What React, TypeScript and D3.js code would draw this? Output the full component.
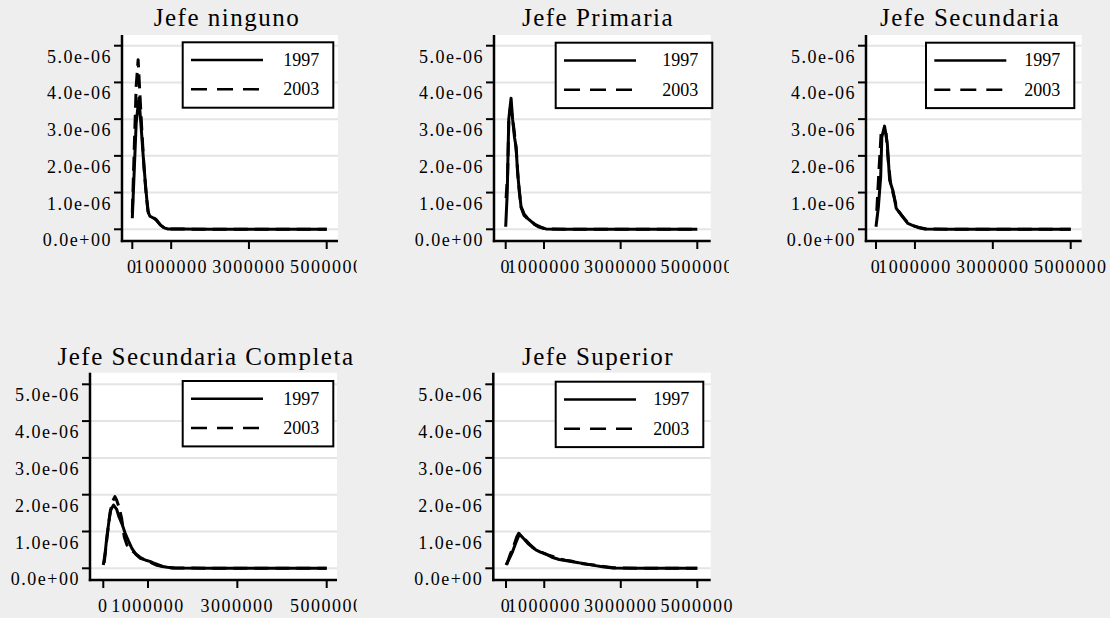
import React, { useEffect, useRef } from "react"
import * as d3 from "d3"

type Pt = [number, number]

const titles = [
  "Jefe ninguno",
  "Jefe Primaria",
  "Jefe Secundaria",
  "Jefe Secundaria Completa",
  "Jefe Superior",
]
const years = ["1997", "2003"]
const xTicks = [0, 1000000, 3000000, 5000000]
const yTicks = [0, 1e-6, 2e-6, 3e-6, 4e-6, 5e-6]

// kernel densities: [ingreso, densidad]
const ninguno1997: Pt[] = [
  [0, 0.3e-6], [0.05e6, 1.6e-6], [0.1e6, 2.9e-6], [0.17e6, 3.57e-6], [0.22e6, 2.9e-6],
  [0.28e6, 2.0e-6], [0.34e6, 1.2e-6], [0.4e6, 0.5e-6], [0.45e6, 0.36e-6], [0.52e6, 0.32e-6],
  [0.6e6, 0.28e-6], [0.66e6, 0.2e-6], [0.74e6, 0.1e-6], [0.82e6, 0.04e-6], [0.92e6, 0.01e-6],
  [1.2e6, 0.005e-6], [2e6, 0.002e-6], [3e6, 0.001e-6], [5e6, 0],
]
const ninguno2003: Pt[] = [
  [0, 0.45e-6], [0.05e6, 2.2e-6], [0.1e6, 3.9e-6], [0.15e6, 4.62e-6], [0.19e6, 3.8e-6],
  [0.24e6, 2.8e-6], [0.3e6, 1.7e-6], [0.36e6, 0.9e-6], [0.42e6, 0.4e-6], [0.48e6, 0.33e-6],
  [0.56e6, 0.3e-6], [0.63e6, 0.24e-6], [0.72e6, 0.12e-6], [0.82e6, 0.04e-6], [0.95e6, 0.01e-6],
  [1.5e6, 0.004e-6], [2.5e6, 0.001e-6], [5e6, 0],
]
const primaria1997: Pt[] = [
  [0, 0.07e-6], [0.04e6, 1.0e-6], [0.08e6, 3.0e-6], [0.14e6, 3.57e-6], [0.18e6, 3.0e-6],
  [0.23e6, 2.5e-6], [0.27e6, 2.25e-6], [0.31e6, 1.55e-6], [0.36e6, 1.0e-6], [0.4e6, 0.62e-6],
  [0.48e6, 0.42e-6], [0.57e6, 0.3e-6], [0.68e6, 0.2e-6], [0.79e6, 0.12e-6], [0.92e6, 0.06e-6],
  [1.05e6, 0.01e-6], [1.5e6, 0.003e-6], [3e6, 0.001e-6], [5e6, 0],
]
const primaria2003: Pt[] = [
  [0.01e6, 0.85e-6], [0.05e6, 1.5e-6], [0.08e6, 2.9e-6], [0.12e6, 3.3e-6], [0.17e6, 3.1e-6],
  [0.23e6, 2.6e-6], [0.28e6, 2.1e-6], [0.33e6, 1.3e-6], [0.4e6, 0.6e-6], [0.48e6, 0.38e-6],
  [0.58e6, 0.28e-6], [0.66e6, 0.25e-6], [0.74e6, 0.14e-6], [0.85e6, 0.07e-6], [1.0e6, 0.02e-6],
  [1.2e6, 0.005e-6], [2e6, 0.002e-6], [5e6, 0],
]
const secundaria1997: Pt[] = [
  [0, 0.07e-6], [0.06e6, 0.6e-6], [0.12e6, 1.43e-6], [0.15e6, 2.52e-6], [0.22e6, 2.81e-6],
  [0.29e6, 2.34e-6], [0.35e6, 1.34e-6], [0.44e6, 1.03e-6], [0.52e6, 0.57e-6], [0.65e6, 0.39e-6],
  [0.75e6, 0.25e-6], [0.82e6, 0.16e-6], [0.95e6, 0.1e-6], [1.08e6, 0.05e-6], [1.25e6, 0.01e-6],
  [2e6, 0.003e-6], [3.5e6, 0.001e-6], [5e6, 0],
]
const secundaria2003: Pt[] = [
  [0.02e6, 0.5e-6], [0.07e6, 1.5e-6], [0.13e6, 2.6e-6], [0.2e6, 2.75e-6], [0.26e6, 2.6e-6],
  [0.32e6, 1.8e-6], [0.38e6, 1.2e-6], [0.46e6, 0.9e-6], [0.54e6, 0.55e-6], [0.66e6, 0.38e-6],
  [0.8e6, 0.2e-6], [0.95e6, 0.1e-6], [1.1e6, 0.05e-6], [1.3e6, 0.01e-6], [2e6, 0.003e-6], [5e6, 0],
]
const completa1997: Pt[] = [
  [0, 0.09e-6], [0.04e6, 0.4e-6], [0.08e6, 0.86e-6], [0.16e6, 1.58e-6], [0.23e6, 1.72e-6],
  [0.3e6, 1.6e-6], [0.35e6, 1.4e-6], [0.42e6, 1.2e-6], [0.49e6, 0.95e-6], [0.56e6, 0.75e-6],
  [0.64e6, 0.54e-6], [0.73e6, 0.38e-6], [0.83e6, 0.27e-6], [0.95e6, 0.22e-6], [1.06e6, 0.18e-6],
  [1.15e6, 0.13e-6], [1.24e6, 0.09e-6], [1.33e6, 0.05e-6], [1.43e6, 0.03e-6], [1.6e6, 0.01e-6],
  [2.5e6, 0.003e-6], [5e6, 0],
]
const completa2003: Pt[] = [
  [0.02e6, 0.15e-6], [0.08e6, 0.8e-6], [0.14e6, 1.4e-6], [0.2e6, 1.8e-6], [0.26e6, 1.95e-6],
  [0.3e6, 1.85e-6], [0.35e6, 1.67e-6], [0.41e6, 1.36e-6], [0.47e6, 0.85e-6], [0.53e6, 0.63e-6],
  [0.62e6, 0.5e-6], [0.7e6, 0.42e-6], [0.82e6, 0.3e-6], [0.95e6, 0.22e-6], [1.08e6, 0.15e-6],
  [1.2e6, 0.08e-6], [1.35e6, 0.04e-6], [1.5e6, 0.01e-6], [2.5e6, 0.003e-6], [5e6, 0],
]
const superior1997: Pt[] = [
  [0, 0.09e-6], [0.08e6, 0.25e-6], [0.17e6, 0.45e-6], [0.26e6, 0.7e-6], [0.35e6, 0.93e-6],
  [0.45e6, 0.82e-6], [0.57e6, 0.68e-6], [0.68e6, 0.58e-6], [0.78e6, 0.5e-6], [0.9e6, 0.44e-6],
  [1.04e6, 0.39e-6], [1.2e6, 0.3e-6], [1.39e6, 0.24e-6], [1.55e6, 0.21e-6], [1.74e6, 0.18e-6],
  [1.9e6, 0.15e-6], [2.09e6, 0.12e-6], [2.3e6, 0.08e-6], [2.52e6, 0.04e-6], [2.8e6, 0.01e-6],
  [3.5e6, 0.003e-6], [5e6, 0],
]
const superior2003: Pt[] = [
  [0.02e6, 0.1e-6], [0.1e6, 0.35e-6], [0.2e6, 0.6e-6], [0.28e6, 0.85e-6], [0.33e6, 0.95e-6],
  [0.4e6, 0.9e-6], [0.5e6, 0.78e-6], [0.62e6, 0.65e-6], [0.75e6, 0.53e-6], [0.9e6, 0.45e-6],
  [1.05e6, 0.38e-6], [1.2e6, 0.33e-6], [1.4e6, 0.25e-6], [1.55e6, 0.22e-6], [1.7e6, 0.2e-6],
  [1.9e6, 0.14e-6], [2.1e6, 0.11e-6], [2.3e6, 0.09e-6], [2.55e6, 0.05e-6], [2.8e6, 0.015e-6],
  [3.5e6, 0.003e-6], [5e6, 0],
]

const series = [
  [ninguno1997, ninguno2003],
  [primaria1997, primaria2003],
  [secundaria1997, secundaria2003],
  [completa1997, completa2003],
  [superior1997, superior2003],
]

// where each sub graph sits on the page
const layout = [
  { cellL: 0, cellR: 357, axisX: 122, right: 338, x0: 132.3, x5: 326.7, top: 35, base: 241, g0: 229.3, g5: 45.7, titleX: 227, titleY: 26, legX: 182.7, legW: 150.6, legY: 42.3 },
  { cellL: 365, cellR: 729, axisX: 494, right: 710.7, x0: 505.7, x5: 697.3, top: 35, base: 241, g0: 229.3, g5: 45.7, titleX: 598, titleY: 26, legX: 555.7, legW: 156.6, legY: 42.7 },
  { cellL: 736, cellR: 1110, axisX: 866, right: 1081.7, x0: 876, x5: 1070.7, top: 35, base: 241, g0: 229.3, g5: 45.7, titleX: 970, titleY: 26, legX: 926, legW: 148.3, legY: 42.7 },
  { cellL: 0, cellR: 357, axisX: 90, right: 337, x0: 103.3, x5: 326.7, top: 372.7, base: 580, g0: 568.3, g5: 384.3, titleX: 206, titleY: 365, legX: 182.7, legW: 150.6, legY: 381 },
  { cellL: 365, cellR: 733, axisX: 493.3, right: 710.7, x0: 506, x5: 697.3, top: 372.7, base: 580, g0: 568.3, g5: 384.3, titleX: 598, titleY: 365, legX: 555.7, legW: 147.6, legY: 381.7 },
]

const FONT = "'Liberation Serif', 'Times New Roman', serif"

const fmtSci = (v: number) => {
  if (v === 0) return "0.0e+00"
  const e = Math.floor(Math.log10(v) + 1e-9)
  const m = v / Math.pow(10, e)
  return m.toFixed(1) + "e" + (e < 0 ? "-" : "+") + String(Math.abs(e)).padStart(2, "0")
}

function App() {
  const ref = useRef<SVGSVGElement>(null)

  useEffect(() => {
    const svg = d3.select(ref.current)
    svg.selectAll("*").remove()

    svg.append("rect")
      .attr("width", 1110)
      .attr("height", 618)
      .attr("fill", "#eeeeee")

    const defs = svg.append("defs")

    layout.forEach((p, i) => {
      defs.append("clipPath")
        .attr("id", "cell" + i)
        .append("rect")
        .attr("x", p.cellL)
        .attr("y", 0)
        .attr("width", p.cellR - p.cellL)
        .attr("height", 618)

      const g = svg.append("g").attr("clip-path", `url(#cell${i})`)
      const x = d3.scaleLinear().domain([0, 5000000]).range([p.x0, p.x5])
      const y = d3.scaleLinear().domain([0, 5e-6]).range([p.g0, p.g5])

      // plot region
      g.append("rect")
        .attr("x", p.axisX)
        .attr("y", p.top)
        .attr("width", p.right - p.axisX)
        .attr("height", p.base - p.top)
        .attr("fill", "white")

      g.selectAll(".grid")
        .data(yTicks)
        .enter()
        .append("line")
        .attr("x1", p.axisX)
        .attr("x2", p.right)
        .attr("y1", d => y(d))
        .attr("y2", d => y(d))
        .attr("stroke", "#e4e4e4")
        .attr("stroke-width", 2)

      const line = d3.line<Pt>()
        .x(d => x(d[0]))
        .y(d => y(d[1]))

      series[i].forEach((s, k) => {
        g.append("path")
          .attr("d", line(s))
          .attr("fill", "none")
          .attr("stroke", "black")
          .attr("stroke-width", 3)
          .attr("stroke-linejoin", "round")
          .attr("stroke-dasharray", k === 1 ? "14,7" : null)
      })

      // axes
      g.append("line")
        .attr("x1", p.axisX)
        .attr("x2", p.axisX)
        .attr("y1", p.top)
        .attr("y2", p.base + 1.2)
        .attr("stroke", "black")
        .attr("stroke-width", 2.5)
      g.append("line")
        .attr("x1", p.axisX - 1.2)
        .attr("x2", p.right)
        .attr("y1", p.base)
        .attr("y2", p.base)
        .attr("stroke", "black")
        .attr("stroke-width", 2.5)

      yTicks.forEach(t => {
        g.append("line")
          .attr("x1", p.axisX - 8)
          .attr("x2", p.axisX)
          .attr("y1", y(t))
          .attr("y2", y(t))
          .attr("stroke", "black")
          .attr("stroke-width", 2)
        g.append("text")
          .attr("x", p.axisX - 10)
          .attr("y", y(t) + 17)
          .attr("text-anchor", "end")
          .attr("font-family", FONT)
          .attr("font-size", 18)
          .attr("letter-spacing", 1.5)
          .text(fmtSci(t))
      })

      xTicks.forEach(t => {
        g.append("line")
          .attr("x1", x(t))
          .attr("x2", x(t))
          .attr("y1", p.base)
          .attr("y2", p.base + 8)
          .attr("stroke", "black")
          .attr("stroke-width", 2)
        g.append("text")
          .attr("x", x(t))
          .attr("y", p.base + 32)
          .attr("text-anchor", "middle")
          .attr("font-family", FONT)
          .attr("font-size", 18)
          .attr("letter-spacing", 1.5)
          .text(String(t))
      })

      // title
      g.append("text")
        .attr("x", p.titleX)
        .attr("y", p.titleY)
        .attr("text-anchor", "middle")
        .attr("font-family", FONT)
        .attr("font-size", 25)
        .attr("letter-spacing", 1.5)
        .text(titles[i])

      // legend
      g.append("rect")
        .attr("x", p.legX)
        .attr("y", p.legY)
        .attr("width", p.legW)
        .attr("height", 65.4)
        .attr("fill", "white")
        .attr("stroke", "black")
        .attr("stroke-width", 2)
      years.forEach((yr, k) => {
        const ly = p.legY + 17.7 + k * 29.3
        g.append("line")
          .attr("x1", p.legX + 8.3)
          .attr("x2", p.legX + 80.3)
          .attr("y1", ly)
          .attr("y2", ly)
          .attr("stroke", "black")
          .attr("stroke-width", 2.5)
          .attr("stroke-dasharray", k === 1 ? "16,10" : null)
        g.append("text")
          .attr("x", p.legX + p.legW - 14)
          .attr("y", ly + 5.8)
          .attr("text-anchor", "end")
          .attr("font-family", FONT)
          .attr("font-size", 18)
          .text(yr)
      })
    })
  }, [])

  return (
    <svg
      ref={ref}
      width={1110}
      height={618}
      style={{ position: "absolute", left: 0, top: 0 }}
    />
  )
}

export default App
